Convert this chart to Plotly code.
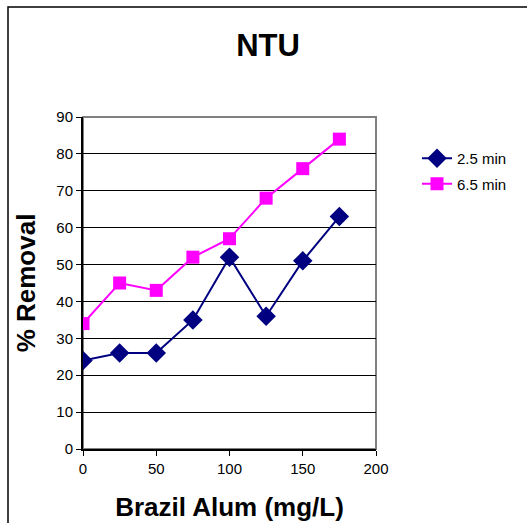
import plotly.graph_objects as go

dose = [0, 25, 50, 75, 100, 125, 150, 175]
removal_25 = [24, 26, 26, 35, 52, 36, 51, 63]
removal_65 = [34, 45, 43, 52, 57, 68, 76, 84]
x_ticks = [0, 50, 100, 150, 200]
y_ticks = [0, 10, 20, 30, 40, 50, 60, 70, 80, 90]

FONT = "Liberation Sans, Arial, sans-serif"

fig = go.Figure()
fig.add_trace(go.Scatter(x=dose, y=removal_25, name="2.5 min", mode="lines+markers",
                         legendgroup="a",
                         line=dict(color="#000080", width=2),
                         marker=dict(symbol="diamond", size=15, color="#000080")))
fig.add_trace(go.Scatter(x=dose, y=removal_65, name="6.5 min", mode="lines+markers",
                         legendgroup="b",
                         line=dict(color="#FF00FF", width=2),
                         marker=dict(symbol="square", size=13, color="#FF00FF")))

L, R, T, B = 83, 376, 117, 449
W, H = 527, 523
pw, ph = R - L, B - T

def px(xp):
    return (xp - L) / pw

def py(yp):
    return (B - yp) / ph

fig.update_layout(
    width=W, height=H,
    margin=dict(l=L, r=W - R, t=T, b=H - B),
    paper_bgcolor="white", plot_bgcolor="white",
    font=dict(family=FONT, size=15, color="black"),
    title=dict(text="<b>NTU</b>", x=px(268), xref="paper", xanchor="center",
               y=1 - 45 / H, yanchor="middle", font=dict(size=31)),
    showlegend=True,
    legend=dict(x=px(417), y=py(142), xanchor="left", yanchor="top",
                font=dict(size=15), bgcolor="rgba(0,0,0,0)",
                traceorder="grouped", tracegroupgap=3, itemwidth=30),
    xaxis=dict(range=[0, 200], tickvals=x_ticks, showgrid=False, zeroline=False,
               showline=True, linecolor="black", linewidth=2, automargin=False,
               ticks="outside", ticklen=5, tickcolor="black",
               tickfont=dict(size=15),
               title=dict(text="<b>Brazil Alum (mg/L)</b>", font=dict(size=26), standoff=22)),
    yaxis=dict(range=[0, 90], tickvals=y_ticks, showgrid=True, gridcolor="black", gridwidth=1,
               zeroline=False, showline=True, linecolor="black", linewidth=2, automargin=False,
               ticks="outside", ticklen=5, tickcolor="black",
               tickfont=dict(size=15),
               title=dict(text="<b>% Removal</b>", font=dict(size=26), standoff=13)),
    shapes=[
        dict(type="rect", xref="paper", yref="paper", x0=0, x1=1, y0=0, y1=1,
             line=dict(color="#808080", width=2), layer="below"),
        dict(type="rect", xref="paper", yref="paper", x0=px(8), x1=px(540),
             y0=py(540), y1=py(7), line=dict(color="black", width=1.5)),
    ],
)

fig.write_html("out.html")
